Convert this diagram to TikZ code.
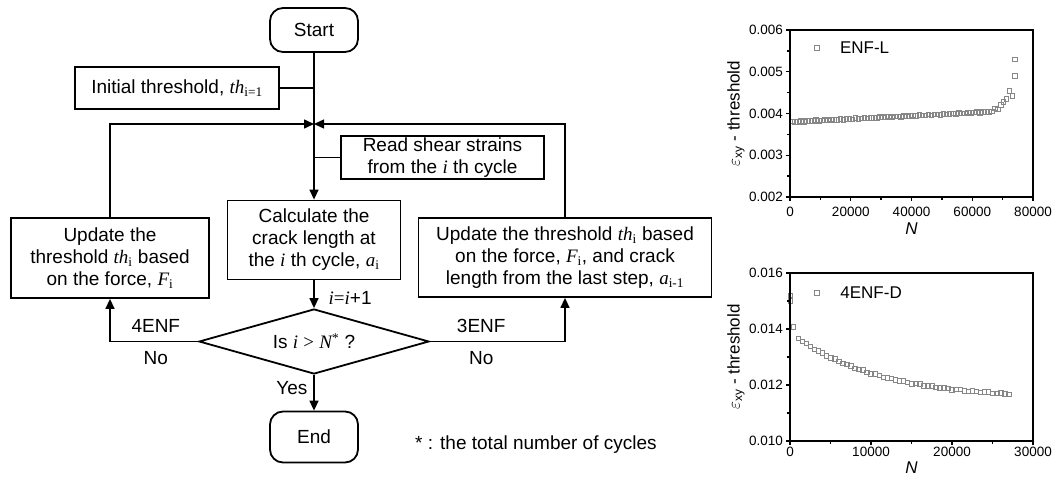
\documentclass[tikz,border=0pt]{standalone}
\usepackage{fontspec}
\setmainfont{Liberation Sans}
\newfontfamily\tnr{Liberation Serif}
\usetikzlibrary{positioning,shapes.geometric,arrows.meta}

\newcommand{\vr}[1]{{\tnr\itshape #1}}
\newcommand{\sbs}[1]{\textsubscript{\tnr #1}}
\definecolor{markgray}{RGB}{135,135,135}

\tikzset{
  flow/.style={draw, line width=1.8pt, align=center, inner sep=0pt, font=\fontsize{19}{22}\selectfont},
  term/.style={flow, rounded corners=13pt, minimum width=88pt, minimum height=44pt},
  proc/.style={flow, rectangle},
  dec/.style={flow, diamond, aspect=3.5, minimum width=230pt, minimum height=65pt},
  link/.style={line width=1.4pt},
  arr/.style={link, -{Triangle[length=10pt,width=9pt]}},
  lbl/.style={font=\fontsize{19}{22}\selectfont, inner sep=0pt},
  mk/.style={draw=markgray, line width=0.6pt, minimum size=4.6pt, inner sep=0pt},
  ticklbl/.style={font=\fontsize{13.5}{15}\selectfont, inner sep=0pt},
  axl/.style={font=\fontsize{17}{19}\selectfont, inner sep=0pt},
  frame/.style={line width=2.2pt},
}

\begin{document}
\begin{tikzpicture}[x=1pt,y=-1pt]
\useasboundingbox (0,0) rectangle (1056,481);

% flowchart
\node[term] (start) at (314,30) {Start};
\node[proc, minimum width=204pt, minimum height=42pt] (init) at (177,88) {Initial threshold, \vr{th}\sbs{i=1}};
\coordinate (mrg) at (314,124);
\node[proc, minimum width=203pt, minimum height=43pt] (read) at (442.5,157.5) {Read shear strains\\from the \vr{i} th cycle};
\node[proc, minimum width=173pt, minimum height=79pt] (calc) at (314,240) {Calculate the\\crack length at\\the \vr{i} th cycle, \vr{a}\sbs{i}};
\node[proc, minimum width=198pt, minimum height=80pt] (updl) at (110,258) {Update the\\threshold \vr{th}\sbs{i} based\\on the force, \vr{F}\sbs{i}};
\node[proc, minimum width=293pt, minimum height=79pt] (updr) at (565,257.5) {Update the threshold \vr{th}\sbs{i} based\\on the force, \vr{F}\sbs{i}, and crack\\length from the last step, \vr{a}\sbs{i-1}};
\node[dec] (isi) at (314,341.5) {Is \vr{i} {\tnr >} \vr{N}\textsuperscript{\tnr *} ?};
\node[term, minimum height=51pt] (fin) at (314,437) {End};
\node[lbl, anchor=west] (note) at (415,445) {* : the total number of cycles};

\draw[arr] (start) -- (calc);
\draw[link] (init.east) -- (init.east -| start.south);
\draw[link] (read.west) -- (read.west -| start.south);
\draw[arr] (updl.north) |- (mrg);
\draw[arr] (updr.north) |- (mrg);
\draw[arr] (calc) -- (isi) node[lbl, pos=0.65, right=14pt] {\vr{i}{\tnr =}\vr{i}+1};
\draw[arr] (isi.west) -| (updl.south)
  node[lbl, pos=0.24, above=8pt] {4ENF}
  node[lbl, pos=0.24, below=9pt] {No};
\draw[arr] (isi.east) -| (updr.south)
  node[lbl, pos=0.19, above=8pt] {3ENF}
  node[lbl, pos=0.19, below=9pt] {No};
\draw[arr] (isi) -- (fin) node[lbl, pos=0.38, left=6pt] {Yes};

% ENF-L
\begin{scope}[shift={(790,197)}, x=3.0375pt, y=41.75pt]
\foreach \n [count=\k] in {0.5,1.5,...,66.5}
  \node[mk] (a\k) at (\n, {1.8+0.0037*\n+0.012*sin(\n*137)}) {};
\foreach \n/\v [count=\k] in {67.5/2.12,68.5/2.10,69.3/2.21,70.2/2.28,71.2/2.35,72.2/2.55,73.2/2.43,74/2.9,74/3.3}
  \node[mk] (b\k) at (\n,\v) {};
\draw[frame] (0,0) rectangle (80,4);
\foreach \t/\l in {0/0,20/20000,40/40000,60/60000,80/80000} {
  \draw[link] (\t,0) -- ++(0,-4pt);
  \node[ticklbl, below=10pt] at (\t,0) {\l};
}
\foreach \t in {10,30,50,70} \draw[link] (\t,0) -- ++(0,-3pt);
\foreach \t/\l in {0/0.002,1/0.003,2/0.004,3/0.005,4/0.006} {
  \draw[link] (0,\t) -- ++(-4pt,0);
  \node[ticklbl, left=7pt] at (0,\t) {\l};
}
\foreach \t in {0.5,1.5,2.5,3.5} \draw[link] (0,\t) -- ++(-3pt,0);
\node[mk] (lega) at (8.8,3.58) {};
\node[axl, anchor=west] (txta) at (16.4,3.58) {ENF-L};
\end{scope}
\node[axl] (nxa) at (911.5,229) {\textit{N}};
\node[axl, rotate=90] (nya) at (736,113.5) {$\varepsilon$\textsubscript{xy} - threshold};

% 4ENF-D
\begin{scope}[shift={(790,441)}, x=8.1pt, y=28pt]
\foreach \n/\v [count=\k] in {0.05/5.2,0.05/5.0,0.4/4.07}
  \node[mk] (c\k) at (\n,\v) {};
\foreach \n [count=\k] in {1.0,1.5,...,27.0}
  \node[mk] (d\k) at (\n, {1.5+2.39*exp(-\n/10.5)+0.02*sin(\n*211)}) {};
\draw[frame] (0,0) rectangle (30,6);
\foreach \t/\l in {0/0,10/10000,20/20000,30/30000} {
  \draw[link] (\t,0) -- ++(0,-4pt);
  \node[ticklbl, below=6pt] at (\t,0) {\l};
}
\foreach \t in {5,15,25} \draw[link] (\t,0) -- ++(0,-3pt);
\foreach \t/\l in {0/0.010,2/0.012,4/0.014,6/0.016} {
  \draw[link] (0,\t) -- ++(-4pt,0);
  \node[ticklbl, left=7pt] at (0,\t) {\l};
}
\foreach \t in {1,3,5} \draw[link] (0,\t) -- ++(-3pt,0);
\node[mk] (legb) at (3.3,5.3) {};
\node[axl, anchor=west] (txtb) at (6.2,5.3) {4ENF-D};
\end{scope}
\node[axl] (nxb) at (911.5,468) {\textit{N}};
\node[axl, rotate=90] (nyb) at (736,357) {$\varepsilon$\textsubscript{xy} - threshold};
\end{tikzpicture}
\end{document}
